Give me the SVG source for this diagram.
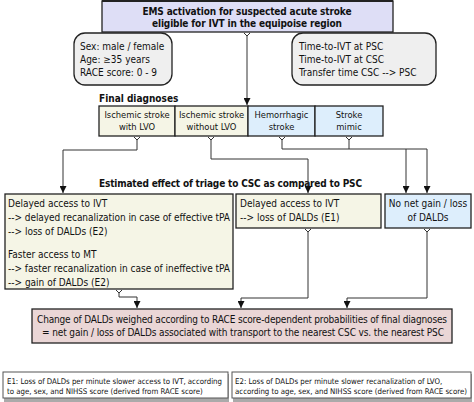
<svg xmlns="http://www.w3.org/2000/svg" width="474" height="402" viewBox="0 0 474 402">
<defs>
<marker id="ah" viewBox="0 0 10 10" refX="10" refY="5" markerWidth="7" markerHeight="7" orient="auto" markerUnits="userSpaceOnUse"><path d="M0,0 L10,5 L0,10 z" fill="#111"/></marker>
<style>
text{font-family:"DejaVu Sans Condensed","DejaVu Sans",Verdana,sans-serif;font-size:10px;fill:#111}
.b{font-weight:bold}
.c{text-anchor:middle}
.d{font-size:9.3px}
.s{font-size:7.8px}
.box{stroke:#222;stroke-width:1.3}
.ln{fill:none;stroke:#333;stroke-width:1}
.ar{fill:none;stroke:#333;stroke-width:1;marker-end:url(#ah)}
</style>
</defs>
<rect width="474" height="402" fill="#fff"/>
<g id="top">
<rect class="box" x="102" y="1" width="291" height="31" fill="#dedef6"/>
<line x1="102" y1="1" x2="393" y2="1" stroke="#222" stroke-width="2"/>
<text class="b c" x="247" y="15" textLength="209">EMS activation for suspected acute stroke</text>
<text class="b c" x="247" y="27" textLength="190">eligible for IVT in the equipoise region</text>
</g>
<g id="patient">
<rect class="box" x="74" y="33" width="98" height="52" rx="11" fill="#efefef"/>
<text x="80" y="50">Sex: male / female</text>
<text x="80" y="63">Age: ≥35 years</text>
<text x="80" y="76">RACE score: 0 - 9</text>
</g>
<g id="times">
<rect class="box" x="292" y="33" width="144" height="52" rx="11" fill="#efefef"/>
<text x="299" y="50">Time-to-IVT at PSC</text>
<text x="299" y="63">Time-to-IVT at CSC</text>
<text x="299" y="76">Transfer time CSC --&gt; PSC</text>
</g>
<text class="b" x="99" y="102">Final diagnoses</text>
<g id="dx-lvo">
<rect class="box" x="99" y="106" width="76" height="30" fill="#f5f5e6"/>
<text class="c d" x="137" y="118">Ischemic stroke</text>
<text class="c d" x="137" y="130">with LVO</text>
</g>
<g id="dx-nolvo">
<rect class="box" x="175" y="106" width="73" height="30" fill="#f5f5e6"/>
<text class="c d" x="211.5" y="118">Ischemic stroke</text>
<text class="c d" x="211.5" y="130">without LVO</text>
</g>
<g id="dx-hem">
<rect class="box" x="248" y="106" width="67" height="30" fill="#ddeefc"/>
<text class="c d" x="281.5" y="118">Hemorrhagic</text>
<text class="c d" x="281.5" y="130">stroke</text>
</g>
<g id="dx-mimic">
<rect class="box" x="315" y="106" width="68" height="30" fill="#ddeefc"/>
<text class="c d" x="349" y="118">Stroke</text>
<text class="c d" x="349" y="130">mimic</text>
</g>
<text class="b" x="99" y="187" textLength="263">Estimated effect of triage to CSC as compared to PSC</text>
<g id="effect-lvo">
<rect class="box" x="5" y="194" width="228" height="95" fill="#f5f5e6"/>
<text x="8" y="207">Delayed access to IVT</text>
<text x="8" y="221" textLength="222">--&gt; delayed recanalization in case of effective tPA</text>
<text x="8" y="235">--&gt; loss of DALDs (E2)</text>
<text x="8" y="258">Faster access to MT</text>
<text x="8" y="272" textLength="222">--&gt; faster recanalization in case of ineffective tPA</text>
<text x="8" y="286">--&gt; gain of DALDs (E2)</text>
</g>
<g id="effect-nolvo">
<rect class="box" x="236" y="194" width="145" height="34" fill="#f5f5e6"/>
<text x="240" y="207">Delayed access to IVT</text>
<text x="240" y="221">--&gt; loss of DALDs (E1)</text>
</g>
<g id="effect-none">
<rect class="box" x="385" y="194" width="86" height="34" fill="#ddeefc"/>
<text class="c" x="428" y="207">No net gain / loss</text>
<text class="c" x="428" y="221">of DALDs</text>
</g>
<g id="result">
<rect class="box" x="32" y="309" width="420" height="34" fill="#ead6d6"/>
<text class="c" x="242" y="323" textLength="410">Change of DALDs weighed according to RACE score-dependent probabilities of final diagnoses</text>
<text class="c" x="243" y="336" textLength="402">= net gain / loss of DALDs associated with transport to the nearest CSC vs. the nearest PSC</text>
</g>
<g id="note-e1">
<rect x="4" y="374" width="225" height="28" fill="#aaa"/>
<rect x="3" y="372" width="225" height="26" fill="#fff" stroke="#555" stroke-width="1"/>
<text class="s" x="7" y="384" textLength="215">E1: Loss of DALDs per minute slower access to IVT, according</text>
<text class="s" x="7" y="394">to age, sex, and NIHSS score (derived from RACE score)</text>
</g>
<g id="note-e2">
<rect x="233" y="374" width="239" height="28" fill="#aaa"/>
<rect x="232" y="372" width="239" height="26" fill="#fff" stroke="#555" stroke-width="1"/>
<text class="s" x="235" y="384">E2: Loss of DALDs per minute slower recanalization of LVO,</text>
<text class="s" x="235" y="394" textLength="232">according to age, sex, and NIHSS score (derived from RACE score)</text>
</g>
<g id="connectors">
<path class="ar" d="M247,35 V105"/>
<path class="ar" d="M137,139 V150 H63 V193"/>
<path class="ar" d="M211,139 V159 H308 V193"/>
<path class="ar" d="M282,139 V149 H427 V193"/>
<path class="ar" d="M406,149 V193"/>
<path class="ln" d="M349,139 V149"/>
<path class="ar" d="M119,292 V297 H137 V308"/>
<path class="ar" d="M308,231 V298 H241 V308"/>
<path class="ar" d="M427,231 V298 H347 V308"/>
<path class="ln" d="M244,33 L247,36 L250,33 M134,137 L137,140 L140,137 M208,137 L211,140 L214,137 M279,137 L282,140 L285,137 M346,137 L349,140 L352,137 M116,290 L119,293 L122,290 M305,229 L308,232 L311,229 M424,229 L427,232 L430,229"/>
</g>
</svg>
